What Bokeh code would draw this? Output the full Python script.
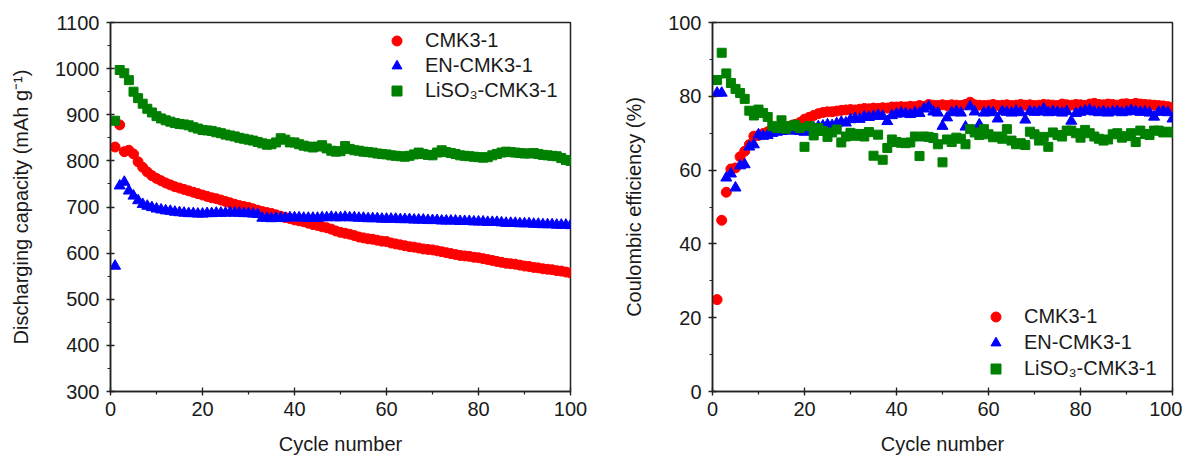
from bokeh.plotting import figure
from bokeh.layouts import row
from bokeh.models import SingleIntervalTicker, Range1d
from bokeh.embed import file_html
from bokeh.resources import INLINE

cycles = list(range(1, 101))

cap_cmk = [830, 878, 820, 823, 815, 798, 786, 776, 768, 762,
           757, 752, 748, 744, 741, 738, 735, 732, 729, 726,
           723, 720, 718, 715, 712, 709, 706, 703, 701, 699,
           696, 693, 690, 688, 686, 683, 680, 677, 675, 672,
           670, 668, 665, 662, 660, 657, 655, 652, 648, 645,
           643, 641, 638, 635, 633, 631, 630, 628, 626, 625,
           622, 620, 618, 616, 614, 613, 611, 609, 608, 607,
           605, 603, 601, 599, 597, 595, 594, 593, 591, 590,
           588, 586, 584, 582, 580, 578, 577, 576, 574, 572,
           571, 569, 568, 566, 565, 564, 562, 561, 559, 557]

cap_en = [572, 746, 754, 735, 724, 714, 706, 702, 699, 696,
          694, 692, 691, 689, 688, 687, 686, 686, 685, 685,
          686, 686, 687, 687, 687, 688, 687, 687, 686, 686,
          685, 684, 676, 676, 675, 676, 676, 676, 677, 677,
          677, 676, 676, 676, 676, 677, 677, 678, 677, 677,
          678, 677, 677, 676, 676, 675, 675, 675, 674, 674,
          674, 674, 673, 673, 673, 672, 672, 672, 671, 671,
          671, 670, 670, 670, 670, 669, 669, 669, 668, 668,
          668, 667, 667, 667, 666, 665, 665, 665, 664, 664,
          664, 663, 663, 662, 662, 662, 661, 661, 661, 660]

cap_liso3 = [887, 997, 990, 975, 950, 936, 924, 913, 905, 897,
             892, 888, 885, 882, 880, 879, 877, 873, 870, 867,
             866, 865, 862, 860, 857, 855, 853, 850, 848, 846,
             844, 841, 838, 835, 836, 840, 849, 846, 840, 840,
             836, 833, 831, 829, 831, 834, 827, 822, 820, 821,
             832, 826, 823, 822, 820, 819, 818, 816, 815, 814,
             812, 811, 810, 809, 811, 814, 818, 815, 813, 812,
             818, 823, 819, 817, 815, 812, 811, 810, 809, 808,
             807, 808, 812, 815, 818, 820, 819, 818, 817, 816,
             816, 817, 815, 813, 812, 811, 810, 806, 802, 800]

ce_cmk = [24.9, 46.4, 54.0, 60.3, 60.6, 63.6, 65.1, 66.9, 69.2, 69.4,
          69.9, 70.4, 70.8, 71.1, 71.4, 71.7, 72.0, 72.4, 72.9, 73.8,
          74.3, 74.8, 75.3, 75.6, 75.8, 75.8, 76.0, 76.2, 76.3, 76.4,
          76.3, 76.5, 76.7, 76.6, 76.8, 76.7, 76.9, 76.8, 77.1, 77.1,
          77.2, 77.1, 77.3, 77.2, 77.5, 77.3, 77.8, 77.6, 77.5, 77.7,
          77.5, 77.7, 77.6, 77.5, 77.8, 78.4, 77.7, 77.6, 77.5, 77.6,
          77.8, 77.5, 77.6, 77.7, 77.5, 77.6, 77.8, 77.6, 77.7, 77.5,
          77.6, 77.8, 77.7, 77.6, 77.5, 77.9, 77.7, 77.6, 77.8, 77.7,
          77.5, 77.9, 78.1, 77.8, 77.7, 77.9, 77.8, 77.6, 77.9, 78.0,
          77.8, 78.1, 77.9, 77.8, 77.7, 77.6, 77.5, 77.4, 77.2, 76.9]

ce_en = [80.9, 80.9, 57.9, 59.0, 55.2, 61.2, 61.5, 66.3, 66.9, 69.6,
         69.2, 69.4, 70.0, 70.3, 70.5, 70.8, 70.6, 70.9, 70.5, 70.3,
         71.0, 71.5, 71.8, 72.0, 72.3, 72.1, 72.6, 73.0, 72.8, 73.7,
         74.0, 73.8, 74.5, 74.3, 74.6, 74.9, 74.6, 73.2, 74.8, 75.2,
         75.5, 75.3, 75.1, 75.6, 75.4, 76.6, 77.2, 75.8, 75.5, 71.9,
         74.2, 75.6, 75.9, 75.5, 71.7, 77.2, 75.8, 72.3, 75.5, 75.8,
         75.6, 73.9, 75.9, 75.7, 75.5, 76.0, 75.6, 73.6, 75.9, 75.7,
         75.8, 76.6, 75.6, 75.9, 75.7, 75.5, 75.9, 73.3, 75.4, 75.7,
         76.0, 76.3, 75.8, 75.6, 75.9, 75.5, 75.8, 75.9, 75.6, 75.8,
         76.2, 75.9, 75.7, 75.8, 75.5, 74.4, 75.7, 75.9, 75.6, 73.9]

ce_liso3 = [84.4, 91.8, 86.2, 83.6, 82.0, 80.9, 79.3, 76.1, 74.8, 76.4,
            75.5, 74.4, 71.9, 71.4, 73.5, 71.2, 71.9, 72.3, 71.4, 66.3,
            71.9, 69.4, 71.4, 70.6, 69.0, 70.2, 71.0, 67.5, 69.1, 70.1,
            69.3, 69.8, 69.1, 70.3, 63.9, 69.6, 62.8, 66.0, 68.3, 67.6,
            67.4, 67.3, 67.5, 69.1, 63.8, 69.1, 69.0, 68.7, 67.0, 62.1,
            68.3, 67.6, 68.8, 68.5, 67.0, 71.1, 70.2, 69.5, 71.1, 69.7,
            68.9, 69.1, 68.5, 71.1, 68.0, 67.0, 67.3, 66.8, 70.4, 69.7,
            68.0, 69.0, 66.3, 70.2, 69.5, 69.1, 70.7, 70.7, 70.0, 68.8,
            70.9, 70.0, 69.1, 68.5, 68.0, 68.3, 69.7, 70.0, 68.8, 69.2,
            70.0, 67.6, 70.7, 69.8, 69.5, 70.7, 70.7, 70.2, 70.4, 70.2]

names = ["CMK3-1", "EN-CMK3-1", "LiSO\u2083-CMK3-1"]
colors = ["#FF0000", "#0000FF", "#008000"]
markers = ["circle", "triangle", "square"]
sizes = [10, 11, 9]

FONT = "Liberation Sans"
TXT = "#1a1a1a"


def style(p, y_interval):
    p.xaxis.ticker = SingleIntervalTicker(interval=20, num_minor_ticks=2)
    p.yaxis.ticker = SingleIntervalTicker(interval=y_interval, num_minor_ticks=2)
    for ax in (p.xaxis[0], p.yaxis[0]):
        ax.axis_line_width = 1.5
        ax.axis_line_color = "#222222"
        ax.major_tick_line_color = "#222222"
        ax.minor_tick_line_color = "#222222"
        ax.major_tick_line_width = 1.3
        ax.minor_tick_line_width = 1.2
        ax.major_tick_in = 4
        ax.major_tick_out = 4
        ax.minor_tick_in = 0
        ax.minor_tick_out = 3
        ax.major_label_text_font = FONT
        ax.major_label_text_font_size = "20px"
        ax.major_label_text_color = TXT
        ax.axis_label_text_font = FONT
        ax.axis_label_text_font_size = "20px"
        ax.axis_label_text_font_style = "normal"
        ax.axis_label_text_color = TXT
    p.xaxis.major_label_standoff = 6
    p.yaxis.major_label_standoff = 7
    p.xaxis.axis_label_standoff = 14
    p.yaxis.axis_label_standoff = 20
    p.xgrid.visible = False
    p.ygrid.visible = False
    p.outline_line_color = "#222222"
    p.outline_line_width = 1.5
    p.outline_line_alpha = 1.0
    p.background_fill_color = "white"
    p.border_fill_color = "white"


p1 = figure(frame_width=460, frame_height=369, min_border_left=110, min_border_right=29,
            min_border_top=22, min_border_bottom=50,
            x_range=Range1d(0, 100), y_range=Range1d(300, 1100),
            toolbar_location=None, output_backend="svg",
            x_axis_label="Cycle number",
            y_axis_label="Discharging capacity (mAh g\u207B\u00B9)")
style(p1, 100)
for vals, n, c, m, s in zip([cap_cmk, cap_en, cap_liso3], names, colors, markers, sizes):
    p1.scatter(cycles, vals, marker=m, size=s, fill_color=c, line_color=c, legend_label=n)

p2 = figure(frame_width=460, frame_height=369, min_border_left=113, min_border_right=10,
            min_border_top=22, min_border_bottom=50,
            x_range=Range1d(0, 100), y_range=Range1d(0, 100),
            toolbar_location=None, output_backend="svg",
            x_axis_label="Cycle number",
            y_axis_label="Coulombic efficiency (%)")
style(p2, 20)
for vals, n, c, m, s in zip([ce_cmk, ce_en, ce_liso3], names, colors, markers, sizes):
    p2.scatter(cycles, vals, marker=m, size=s, fill_color=c, line_color=c, legend_label=n)


def style_legend(p, loc, spacing):
    lg = p.legend[0]
    lg.location = loc
    lg.border_line_color = None
    lg.background_fill_alpha = 0
    lg.padding = 0
    lg.margin = 0
    lg.spacing = spacing
    lg.glyph_width = 25
    lg.glyph_height = 25
    lg.label_height = 25
    lg.label_standoff = 16
    lg.label_text_font = FONT
    lg.label_text_font_size = "20px"
    lg.label_text_color = TXT


style_legend(p1, (274, 288), 0)
style_legend(p2, (271, 10), 1)

layout = row(p1, p2)
open("out.html", "w").write(file_html(layout, INLINE))
